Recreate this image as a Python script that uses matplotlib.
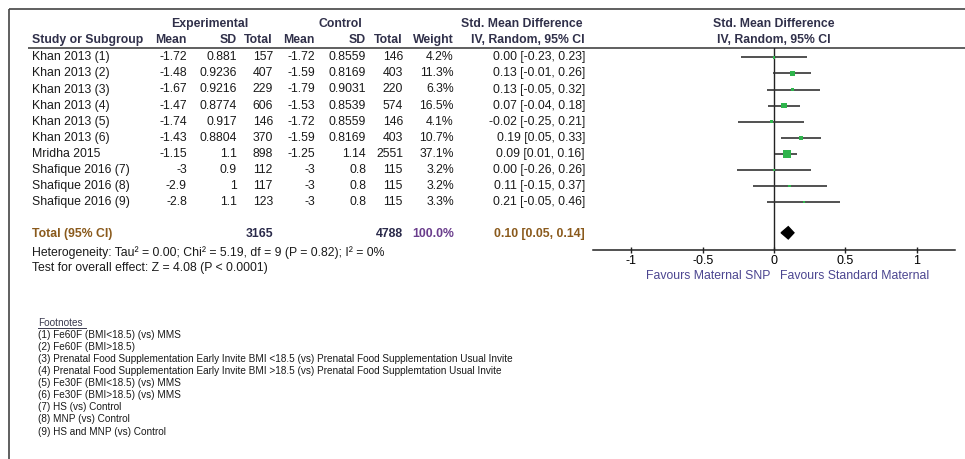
import matplotlib
matplotlib.use("Agg")
import matplotlib.pyplot as plt
import numpy as np

plt.rcParams['font.family'] = ['Liberation Sans', 'DejaVu Sans']

# ---------------- data ----------------
studies = ["Khan 2013 (1)", "Khan 2013 (2)", "Khan 2013 (3)", "Khan 2013 (4)",
           "Khan 2013 (5)", "Khan 2013 (6)", "Mridha 2015", "Shafique 2016 (7)",
           "Shafique 2016 (8)", "Shafique 2016 (9)"]
exp_mean = [-1.72, -1.48, -1.67, -1.47, -1.74, -1.43, -1.15, -3, -2.9, -2.8]
exp_sd = [0.881, 0.9236, 0.9216, 0.8774, 0.917, 0.8804, 1.1, 0.9, 1, 1.1]
exp_total = [157, 407, 229, 606, 146, 370, 898, 112, 117, 123]
ctrl_mean = [-1.72, -1.59, -1.79, -1.53, -1.72, -1.59, -1.25, -3, -3, -3]
ctrl_sd = [0.8559, 0.8169, 0.9031, 0.8539, 0.8559, 0.8169, 1.14, 0.8, 0.8, 0.8]
ctrl_total = [146, 403, 220, 574, 146, 403, 2551, 115, 115, 115]
weights = [4.2, 11.3, 6.3, 16.5, 4.1, 10.7, 37.1, 3.2, 3.2, 3.3]
smd = [0.00, 0.13, 0.13, 0.07, -0.02, 0.19, 0.09, 0.00, 0.11, 0.21]
ci_low = [-0.23, -0.01, -0.05, -0.04, -0.25, 0.05, 0.01, -0.26, -0.15, -0.05]
ci_high = [0.23, 0.26, 0.32, 0.18, 0.21, 0.33, 0.16, 0.26, 0.37, 0.46]

total_exp = 3165
total_ctrl = 4788
total_weight = 100.0
total_smd = 0.10
total_low = 0.05
total_high = 0.14

heterogeneity = "Heterogeneity: Tau\u00b2 = 0.00; Chi\u00b2 = 5.19, df = 9 (P = 0.82); I\u00b2 = 0%"
overall = "Test for overall effect: Z = 4.08 (P < 0.0001)"
x_ticks = [-1, -0.5, 0, 0.5, 1]
x_tick_labels = ["-1", "-0.5", "0", "0.5", "1"]
favours_left = "Favours Maternal SNP"
favours_right = "Favours Standard Maternal"
footnotes = [
    "(1) Fe60F (BMI<18.5) (vs) MMS",
    "(2) Fe60F (BMI>18.5)",
    "(3) Prenatal Food Supplementation Early Invite BMI <18.5 (vs) Prenatal Food Supplementation Usual Invite",
    "(4) Prenatal Food Supplementation Early Invite BMI >18.5 (vs) Prenatal Food Supplemtation Usual Invite",
    "(5) Fe30F (BMI<18.5) (vs) MMS",
    "(6) Fe30F (BMI>18.5) (vs) MMS",
    "(7) HS (vs) Control",
    "(8) MNP (vs) Control",
    "(9) HS and MNP (vs) Control",
]

# ---------------- layout ----------------
W, H = 965, 459
fig = plt.figure(figsize=(W / 100, H / 100), dpi=100)
fig.patch.set_facecolor("white")
bg = fig.add_axes([0, 0, 1, 1])
bg.set_xlim(0, W)
bg.set_ylim(H, 0)
bg.axis("off")

FS = 8.8
FS_FOOT = 7.2
HDR = "#30304a"
TXT = "#1a1a1a"
BROWN = "#8a5a1c"
PURPLE = "#6a3d8c"
NAVY = "#2a2a4a"
GREEN = "#2fb44c"

row0, dy = 57.3, 16.1
row_y = [row0 + dy * i for i in range(len(studies))]
total_y = row0 + dy * 11

# frame lines
bg.plot([9, W], [9, 9], color="#444444", lw=1.2, solid_capstyle="butt")
bg.plot([9, 9], [9, H], color="#444444", lw=1.2, solid_capstyle="butt")
bg.plot([28, W], [48, 48], color="#444444", lw=1.2, solid_capstyle="butt")

# header
bg.text(210, 24, "Experimental", ha="center", va="center", fontsize=FS, fontweight="bold", color=HDR)
bg.text(340, 24, "Control", ha="center", va="center", fontsize=FS, fontweight="bold", color=HDR)
bg.text(522, 24, "Std. Mean Difference", ha="center", va="center", fontsize=FS, fontweight="bold", color=HDR)
bg.text(774, 24, "Std. Mean Difference", ha="center", va="center", fontsize=FS, fontweight="bold", color=HDR)
bg.text(774, 40, "IV, Random, 95% CI", ha="center", va="center", fontsize=FS, fontweight="bold", color=HDR)

col_right = [187, 237, 273, 315, 366, 403, 454, 585]
hdr2 = ["Mean", "SD", "Total", "Mean", "SD", "Total", "Weight", "IV, Random, 95% CI"]
bg.text(32, 40, "Study or Subgroup", ha="left", va="center", fontsize=FS, fontweight="bold", color=HDR)
for xr, lab in zip(col_right, hdr2):
    bg.text(xr, 40, lab, ha="right", va="center", fontsize=FS, fontweight="bold", color=HDR)

# rows
for i, y in enumerate(row_y):
    vals = [f"{exp_mean[i]:g}", f"{exp_sd[i]:g}", f"{exp_total[i]}",
            f"{ctrl_mean[i]:g}", f"{ctrl_sd[i]:g}", f"{ctrl_total[i]}",
            f"{weights[i]:.1f}%",
            f"{smd[i]:.2f} [{ci_low[i]:.2f}, {ci_high[i]:.2f}]"]
    bg.text(32, y, studies[i], ha="left", va="center", fontsize=FS, color=TXT)
    for xr, v in zip(col_right, vals):
        bg.text(xr, y, v, ha="right", va="center", fontsize=FS, color=TXT)

# total row
bg.text(32, total_y, "Total (95% CI)", ha="left", va="center", fontsize=FS, fontweight="bold", color=BROWN)
bg.text(273, total_y, f"{total_exp}", ha="right", va="center", fontsize=FS, fontweight="bold", color=NAVY)
bg.text(403, total_y, f"{total_ctrl}", ha="right", va="center", fontsize=FS, fontweight="bold", color=NAVY)
bg.text(454, total_y, f"{total_weight:.1f}%", ha="right", va="center", fontsize=FS, fontweight="bold", color=PURPLE)
bg.text(585, total_y, f"{total_smd:.2f} [{total_low:.2f}, {total_high:.2f}]", ha="right", va="center",
        fontsize=FS, fontweight="bold", color=BROWN)
bg.text(32, total_y + 18, heterogeneity, ha="left", va="center", fontsize=FS, color=TXT)
bg.text(32, total_y + 34, overall, ha="left", va="center", fontsize=FS, color=TXT)

# footnotes
fn_y0 = 322.7
bg.text(38, fn_y0, "Footnotes", ha="left", va="center", fontsize=FS_FOOT, color="#3a3a50")
bg.plot([38, 86], [fn_y0 + 5, fn_y0 + 5], color="#3a3a50", lw=0.7)
for k, line in enumerate(footnotes):
    bg.text(38, fn_y0 + 12.1 * (k + 1), line, ha="left", va="center", fontsize=FS_FOOT, color=TXT)

# ---------------- forest plot axes ----------------
x0_px, x1_px = 593, 955
y_top_px, y_bot_px = 48, 250
fax = fig.add_axes([x0_px / W, 1 - y_bot_px / H, (x1_px - x0_px) / W, (y_bot_px - y_top_px) / H])
fax.patch.set_alpha(0)
fax.set_xlim(-1.27, 1.27)
ylo = (y_bot_px - row0) / dy
yhi = (y_top_px - row0) / dy
fax.set_ylim(ylo, yhi)
for s in ["left", "right", "top"]:
    fax.spines[s].set_visible(False)
fax.spines["bottom"].set_linewidth(1.1)
fax.spines["bottom"].set_color("#222222")
fax.set_yticks([])
fax.set_xticks(x_ticks)
fax.set_xticklabels(x_tick_labels)
fax.tick_params(axis="x", direction="inout", length=5, width=1.0, color="#222222",
                labelsize=9, pad=1)
fax.axvline(0, color="#222222", lw=1.0, zorder=1)

idx = np.arange(len(studies))
fax.hlines(idx, ci_low, ci_high, color="#333333", lw=1.2, zorder=2)
sizes = (1.0 * np.sqrt(np.array(weights))) ** 2
fax.scatter(smd, idx, s=sizes, marker="s", color=GREEN, linewidths=0, zorder=3)

# diamond for total
ti = 11 - 0.1
hh = 0.38
fax.fill([total_low, total_smd, total_high, total_smd], [ti, ti - hh, ti, ti + hh],
         color="black", zorder=3)

bg.text(770, 276, favours_left, ha="right", va="center", fontsize=FS, color="#4b4590")
bg.text(780, 276, favours_right, ha="left", va="center", fontsize=FS, color="#4b4590")

fig.savefig("out.png", dpi=100)
